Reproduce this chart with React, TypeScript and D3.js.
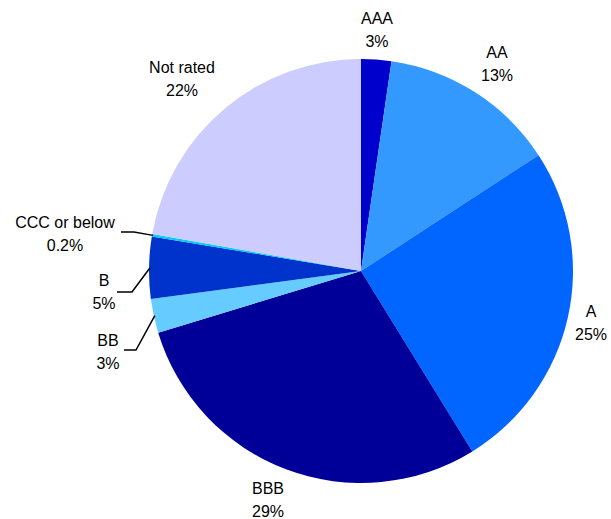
import React from "react";
import * as d3 from "d3";

const categories = ["AAA", "AA", "A", "BBB", "BB", "B", "CCC or below", "Not rated"];
const shares = [2.3, 13.5, 25.4, 29.1, 2.6, 4.7, 0.2, 22.2];
const shareLabels = ["3%", "13%", "25%", "29%", "3%", "5%", "0.2%", "22%"];
const colors = ["#0000CC", "#3399FF", "#0066FF", "#000099", "#66CCFF", "#0033CC", "#00CCFF", "#CCCCFF"];

// label layout: center of text block and optional leader elbow
const labelLayout: { x: number; y: number; leader?: [number, number, number] }[] = [
  { x: 377, y: 18 },
  { x: 497, y: 52 },
  { x: 591, y: 311 },
  { x: 268, y: 488 },
  { x: 108, y: 340, leader: [124, 136, 350] },
  { x: 104, y: 280, leader: [117, 132, 292] },
  { x: 65, y: 222, leader: [121, 134, 232] },
  { x: 182, y: 67 },
];

const W = 611;
const H = 519;
const cx = 361;
const cy = 271;
const R = 212;

export default function App() {
  const pie = d3
    .pie<number>()
    .value((d) => d)
    .sort(null)
    .startAngle(0)
    .endAngle(2 * Math.PI);
  const arcs = pie(shares);
  const arc = d3.arc<d3.PieArcDatum<number>>().innerRadius(0).outerRadius(R);
  const font = "'Liberation Sans', Arial, sans-serif";

  return (
    <svg width={W} height={H} style={{ position: "absolute", left: 0, top: 0, background: "#fff" }}>
      <g transform={`translate(${cx},${cy})`}>
        {arcs.map((a, i) => (
          <path key={i} d={arc(a) || ""} fill={colors[i]} stroke="none" />
        ))}
      </g>
      {arcs.map((a, i) => {
        const L = labelLayout[i];
        const mid = (a.startAngle + a.endAngle) / 2;
        const ex = cx + (R - 1) * Math.sin(mid);
        const ey = cy - (R - 1) * Math.cos(mid);
        return (
          <g key={i}>
            {L.leader && (
              <polyline
                points={`${L.leader[0]},${L.leader[2]} ${L.leader[1]},${L.leader[2]} ${ex},${ey}`}
                fill="none"
                stroke="#000"
                strokeWidth={1.5}
              />
            )}
            <text
              x={L.x}
              y={L.y}
              textAnchor="middle"
              dominantBaseline="central"
              fontFamily={font}
              fontSize={16}
              fill="#000"
            >
              {categories[i]}
            </text>
            <text
              x={L.x}
              y={L.y + 23}
              textAnchor="middle"
              dominantBaseline="central"
              fontFamily={font}
              fontSize={16}
              fill="#000"
            >
              {shareLabels[i]}
            </text>
          </g>
        );
      })}
    </svg>
  );
}
